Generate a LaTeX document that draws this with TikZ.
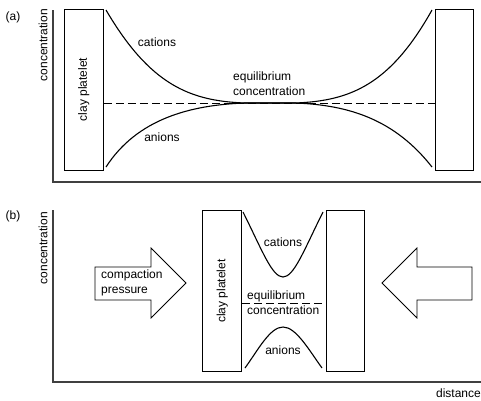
\documentclass[tikz,border=0pt]{standalone}
\usepackage{fontspec}
\setmainfont{Liberation Sans}
\begin{document}
\begin{tikzpicture}[x=1pt, y=-1pt,
  every node/.style={font=\fontsize{12}{15}\selectfont, inner sep=0pt},
  assi/.style={line width=1.6pt, black!75},
  lastra/.style={draw, line width=1pt, minimum width=39pt, minimum height=161pt},
  curva/.style={line width=1.1pt},
  equil/.style={line width=1pt, dash pattern=on 8pt off 4pt},
  freccia/.style={line width=0.8pt, line join=miter}]
  \useasboundingbox (0,0) rectangle (481,400);

  % Pannello (a): assi
  \node (labA) at (13,17) {(a)};
  \node[rotate=90] (concA) at (43,45) {concentration};
  \draw[assi] (53,10) -- (53,182) -- (481,182);

  % Lastre di argilla
  \node[lastra] (boxA) at (83.8,89.5) {};
  \node[lastra, minimum width=37.6pt] (boxB) at (454.5,89.5) {};
  \node[rotate=90] (platA) at (boxA) {clay platelet};

  % Concentrazione di equilibrio
  \draw[equil] (boxA.east |- 0,103) -- (boxB.west |- 0,103);
  \node[align=left, anchor=west] (eqA) at (233,84) {equilibrium\\concentration};

  % Cationi e anioni
  \draw[curva] (106,10) .. controls (150,85) and (190,101) .. (245,103) -- (295,103)
    .. controls (350,101) and (390,85) .. (432,10);
  \draw[curva] (106,167) .. controls (137,119) and (190,105) .. (245,103) -- (295,103)
    .. controls (350,105) and (395,120) .. (432,167);
  \node (catA) at (157,42) {cations};
  \node (anA) at (162,137) {anions};

  % Pannello (b): assi
  \node (labB) at (13,216) {(b)};
  \node[rotate=90] (concB) at (43,248) {concentration};
  \draw[assi] (53,210) -- (53,382) -- (481,382);
  \node[anchor=base east] (dist) at (481,397) {distance};

  % Lastre compattate
  \node[lastra] (boxC) at (222.2,291) {};
  \node[lastra, minimum width=37.6pt] (boxD) at (345.5,291) {};
  \node[rotate=90] (platB) at (boxC) {clay platelet};

  \draw[equil] (boxC.east |- 0,303) -- (boxD.west |- 0,303);
  \node[align=left, anchor=west] (eqB) at (247,302.5) {equilibrium\\concentration};

  \draw[curva] (243,212) .. controls (262,250) and (272,277) .. (283,277)
    .. controls (294,277) and (304,250) .. (323,212);
  \draw[curva] (245,368) .. controls (258,350) and (270,327) .. (283,327)
    .. controls (296,327) and (309,350) .. (322,368);
  \node (catB) at (283,242) {cations};
  \node (anB) at (283,350) {anions};

  % Frecce di compattazione
  \draw[freccia] (95,267) -- (151,267) -- (151,248) -- (186,283) -- (151,318)
    -- (151,300) -- (95,300) -- cycle;
  \node[align=left, anchor=west] (press) at (101,283) {compaction\\pressure};
  \draw[freccia] (472,267) -- (417,267) -- (417,248) -- (382,283) -- (417,318)
    -- (417,300) -- (472,300) -- cycle;
\end{tikzpicture}
\end{document}
